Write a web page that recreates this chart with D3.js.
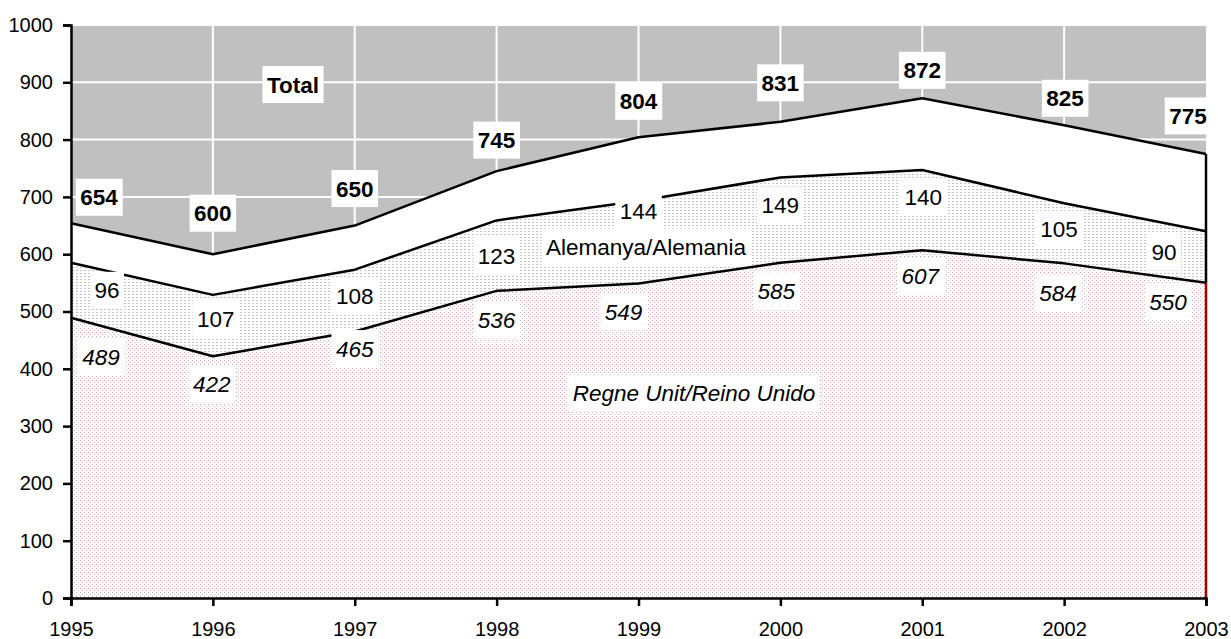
<!DOCTYPE html>
<html>
<head>
<meta charset="utf-8">
<script src="https://cdn.jsdelivr.net/npm/d3@7"></script>
<style>
  html, body { margin: 0; padding: 0; background: #fff; }
  svg { display: block; font-family: Arial, "Liberation Sans", sans-serif; }
</style>
</head>
<body>
<svg id="chart" width="1231" height="639"></svg>
<script>
// Visitors by origin, 1995-2003 (thousands)
const years = [1995, 1996, 1997, 1998, 1999, 2000, 2001, 2002, 2003];
const ukValues = [489, 422, 465, 536, 549, 585, 607, 584, 550];
const germanyValues = [96, 107, 108, 123, 144, 149, 140, 105, 90];
const totalValues = [654, 600, 650, 745, 804, 831, 872, 825, 775];
const yTicks = [0, 100, 200, 300, 400, 500, 600, 700, 800, 900, 1000];
const seriesNames = { total: "Total", germany: "Alemanya/Alemania", uk: "Regne Unit/Reino Unido" };

// label nudges in pixels, relative to each point's anchor
const totalLabelShift = [[28, -26], [0, -41], [0, -37], [0, -31], [0, -36], [0, -39], [0, -28], [1, -27], [-18, -38]];
const germanyLabelShift = [[36, 0], [3, -7], [0, -5], [0, 0], [0, -31], [0, -15], [1, -13], [-5, -4], [-42, -5]];
const ukLabelShift = [[30, 39], [-1, 28], [0, 17], [0, 29], [-15, 28], [-4, 28], [-2, 26], [-6, 30], [-38, 19]];

const rows = years.map((yr, i) => ({
  year: yr,
  uk: ukValues[i],
  ukDe: ukValues[i] + germanyValues[i],
  total: totalValues[i]
}));

const W = 1231, H = 639;
const margin = { top: 25, right: 25, bottom: 41, left: 71 };
const svg = d3.select("#chart");

const x = d3.scaleLinear().domain([years[0], years[years.length - 1]]).range([margin.left, W - margin.right]);
const y = d3.scaleLinear().domain([0, 1000]).range([H - margin.bottom, margin.top]);

// fill patterns
const defs = svg.append("defs");
const ukPat = defs.append("pattern").attr("id", "ukDots")
  .attr("patternUnits", "userSpaceOnUse").attr("width", 4).attr("height", 4);
ukPat.append("rect").attr("width", 4).attr("height", 4).attr("fill", "#fff");
ukPat.append("rect").attr("x", 0).attr("y", 0).attr("width", 1).attr("height", 1).attr("fill", "#dc9a9a");
ukPat.append("rect").attr("x", 2).attr("y", 2).attr("width", 1).attr("height", 1).attr("fill", "#e6b4b4");

const dePat = defs.append("pattern").attr("id", "deDots")
  .attr("patternUnits", "userSpaceOnUse").attr("width", 4).attr("height", 3);
dePat.append("rect").attr("width", 4).attr("height", 3).attr("fill", "#fff");
dePat.append("rect").attr("x", 0).attr("y", 0).attr("width", 2).attr("height", 1).attr("fill", "#c4c4c4");

// plot background
svg.append("rect")
  .attr("x", x(years[0])).attr("y", y(1000))
  .attr("width", x(years[years.length - 1]) - x(years[0]))
  .attr("height", y(0) - y(1000))
  .attr("fill", "#c0c0c0");

// gridlines
const grid = svg.append("g").attr("stroke", "#fff").attr("stroke-width", 2);
grid.selectAll("line.h").data(yTicks.filter(v => v > 0)).join("line")
  .attr("x1", x(years[0])).attr("x2", x(years[years.length - 1]))
  .attr("y1", d => y(d)).attr("y2", d => y(d));
grid.selectAll("line.v").data(years.slice(1, -1)).join("line")
  .attr("x1", d => x(d)).attr("x2", d => x(d))
  .attr("y1", y(0)).attr("y2", y(1000));

// stacked areas
const area = (lo, hi) => d3.area().x(d => x(d.year)).y0(d => y(lo(d))).y1(d => y(hi(d)));
svg.append("path").datum(rows).attr("fill", "#fff").attr("d", area(d => d.ukDe, d => d.total));
svg.append("path").datum(rows).attr("fill", "url(#deDots)").attr("d", area(d => d.uk, d => d.ukDe));
svg.append("path").datum(rows).attr("fill", "url(#ukDots)").attr("d", area(() => 0, d => d.uk));

// boundary lines
const line = acc => d3.line().x(d => x(d.year)).y(d => y(acc(d)));
const lines = svg.append("g").attr("fill", "none").attr("stroke", "#000")
  .attr("stroke-width", 2.5).attr("stroke-linejoin", "round");
lines.append("path").datum(rows).attr("d", line(d => d.total));
lines.append("path").datum(rows).attr("d", line(d => d.ukDe));
lines.append("path").datum(rows).attr("d", line(d => d.uk));

// right-hand edges of the areas
const last = rows[rows.length - 1];
svg.append("line")
  .attr("x1", x(last.year)).attr("x2", x(last.year))
  .attr("y1", y(0)).attr("y2", y(last.uk))
  .attr("stroke", "#a00000").attr("stroke-width", 2.5);
svg.append("line")
  .attr("x1", x(last.year)).attr("x2", x(last.year))
  .attr("y1", y(last.uk)).attr("y2", y(last.total))
  .attr("stroke", "#000").attr("stroke-width", 2.5);

// axes
const yAxis = svg.append("g").attr("transform", `translate(${margin.left},0)`)
  .call(d3.axisLeft(y).tickValues(yTicks).tickSize(8).tickPadding(10).tickFormat(d3.format("d")));
const xAxis = svg.append("g").attr("transform", `translate(0,${H - margin.bottom})`)
  .call(d3.axisBottom(x).tickValues(years).tickSize(8).tickPadding(16).tickFormat(d3.format("d")));
[yAxis, xAxis].forEach(g => {
  g.select(".domain").attr("stroke", "#000").attr("stroke-width", 2.5);
  g.selectAll(".tick line").attr("stroke", "#000").attr("stroke-width", 2.5);
  g.selectAll(".tick text").attr("fill", "#000")
    .style("font-family", "Arial, 'Liberation Sans', sans-serif").style("font-size", "20px");
});

// boxed labels
const labels = svg.append("g");
function boxLabel(cx, cy, text, opts) {
  const g = labels.append("g");
  const t = g.append("text")
    .attr("x", cx).attr("y", cy)
    .attr("text-anchor", "middle").attr("dy", "0.36em")
    .style("font-size", "22.5px")
    .style("font-weight", opts.bold ? "bold" : "normal")
    .style("font-style", opts.italic ? "italic" : "normal")
    .attr("fill", "#000")
    .text(text);
  const bb = t.node().getBBox();
  g.insert("rect", "text")
    .attr("x", bb.x - 4.5).attr("y", cy - 18.5)
    .attr("width", bb.width + 9).attr("height", 37)
    .attr("fill", "#fff");
}

rows.forEach((d, i) => {
  boxLabel(x(d.year) + totalLabelShift[i][0], y(d.total) + totalLabelShift[i][1], totalValues[i], { bold: true });
  boxLabel(x(d.year) + germanyLabelShift[i][0], y((d.uk + d.ukDe) / 2) + germanyLabelShift[i][1], germanyValues[i], {});
  boxLabel(x(d.year) + ukLabelShift[i][0], y(d.uk) + ukLabelShift[i][1], ukValues[i], { italic: true });
});

// series names
boxLabel(293, 84.5, seriesNames.total, { bold: true });
boxLabel(646, 247, seriesNames.germany, {});
boxLabel(694, 393, seriesNames.uk, { italic: true });
</script>
</body>
</html>
